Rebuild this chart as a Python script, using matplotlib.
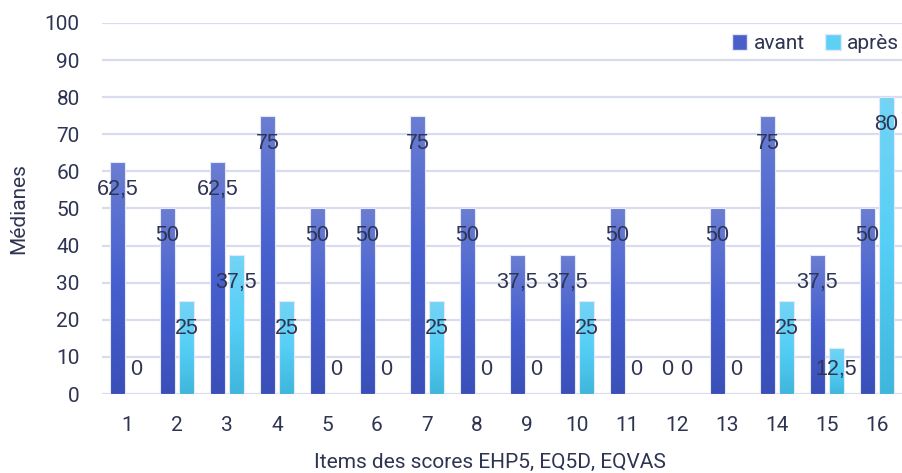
import numpy as np
from matplotlib import pyplot as plt
from matplotlib.colors import LinearSegmentedColormap
from matplotlib.patches import Patch

items = [str(i) for i in range(1, 17)]
avant = [62.5, 50, 62.5, 75, 50, 50, 75, 50, 37.5, 37.5, 50, 0, 50, 75, 37.5, 50]
apres = [0, 25, 37.5, 25, 0, 0, 25, 0, 0, 25, 0, 0, 0, 25, 12.5, 80]

text_col = '#2E3452'
grid_col = '#D9DBEF'
cmap_avant = LinearSegmentedColormap.from_list('av', ['#3A4FB8', '#4760CF', '#6B7ED2'])
cmap_apres = LinearSegmentedColormap.from_list('ap', ['#3FB6DC', '#55CFF6', '#74D4F5'])

fig = plt.figure(figsize=(9.03, 4.73), dpi=100)
ax = fig.add_axes([102 / 903, 79 / 473, 800 / 903, 371 / 473])

x = np.arange(len(items))
w = 0.29
off = 0.19

grad = np.linspace(0, 1, 256).reshape(-1, 1)


def gradient_bars(xpos, vals, cmap):
    bars = ax.bar(xpos, vals, w, facecolor='none', edgecolor='none', zorder=3)
    for b in bars:
        if b.get_height() <= 0:
            continue
        x0, y0 = b.get_x(), b.get_y()
        x1, y1 = x0 + b.get_width(), y0 + b.get_height()
        im = ax.imshow(grad, cmap=cmap, origin='lower', extent=[x0, x1, y0, y1],
                       aspect='auto', zorder=3, interpolation='bicubic')
        im.set_clip_path(b)
        ax.add_patch(plt.Rectangle((x0, y0), x1 - x0, y1 - y0, facecolor='none',
                                   edgecolor='#E4E8F8', linewidth=0.8, zorder=4))
    return bars


gradient_bars(x - off, avant, cmap_avant)
gradient_bars(x + off, apres, cmap_apres)


def fmt(v):
    return ('%g' % v).replace('.', ',')


for xs, vals in ((x - off, avant), (x + off, apres)):
    for xi, v in zip(xs, vals):
        ax.text(xi, max(v - 7.4, 6.7), fmt(v), ha='center', va='center',
                fontsize=15.5, color=text_col, family='Liberation Sans', zorder=5)

ax.set_xlim(-0.5, len(items) - 0.5)
ax.set_ylim(0, 100)
ax.set_yticks(range(0, 101, 10))
ax.set_xticks(x)
ax.set_xticklabels(items)
ax.grid(axis='y', color=grid_col, linewidth=1.6, zorder=0)
ax.set_axisbelow(True)
for s in ax.spines.values():
    s.set_visible(False)
ax.tick_params(axis='both', length=0, labelsize=15, colors=text_col)
ax.tick_params(axis='x', pad=16)
ax.tick_params(axis='y', pad=16)
for lab in ax.get_xticklabels() + ax.get_yticklabels():
    lab.set_family('Roboto')

ax.set_ylabel('Médianes', fontsize=15, color=text_col, family='Roboto')
ax.yaxis.set_label_coords(-0.092, 0.5)
ax.set_xlabel('Items des scores EHP5, EQ5D, EQVAS', fontsize=15, color=text_col,
              family='Roboto', va='center')
ax.xaxis.set_label_coords(0.485, -0.184)

handles = [Patch(facecolor='#4A5FC8', edgecolor='#E4E8F8', label='avant'),
           Patch(facecolor='#5FD0F5', edgecolor='#E4E8F8', label='après')]
leg = ax.legend(handles=handles, loc='upper right', bbox_to_anchor=(1.02, 1.02), ncol=2,
                frameon=False, handlelength=0.75, handleheight=0.75, handletextpad=0.3,
                columnspacing=1.0, prop={'family': 'Roboto', 'size': 15})
for t in leg.get_texts():
    t.set_color(text_col)

fig.savefig('out.png', dpi=100)
